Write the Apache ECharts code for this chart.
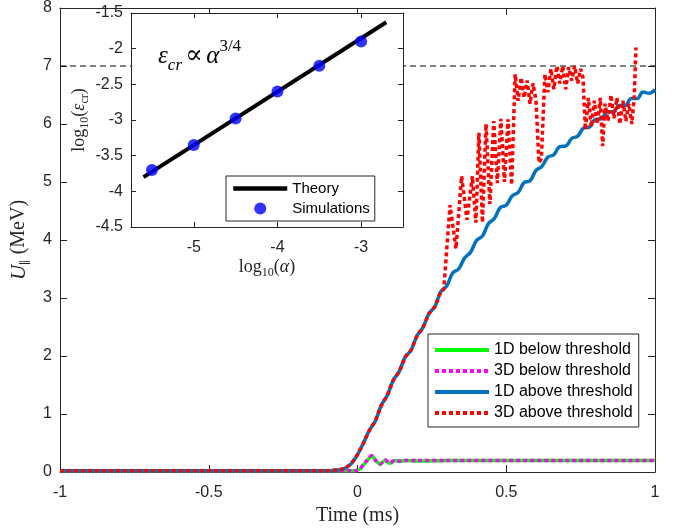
<!DOCTYPE html>
<html>
<head>
<meta charset="utf-8">
<script src="https://cdn.jsdelivr.net/npm/echarts@6.0.0/dist/echarts.min.js"></script>
<style>
  html, body { margin: 0; padding: 0; background: #fff; }
  #chart { width: 688px; height: 531px; }
</style>
</head>
<body>
<div id="chart"></div>
<script>
// main panel: energy vs time
const timeBlue = [-1, -0.5, -0.1, -0.06, -0.04, -0.02,
  0, 0.02, 0.04, 0.06, 0.08, 0.10, 0.12, 0.14, 0.16, 0.18, 0.20, 0.22, 0.24, 0.26, 0.28,
  0.30, 0.32, 0.34, 0.36, 0.38, 0.40, 0.42, 0.44, 0.46, 0.48, 0.50, 0.52, 0.54, 0.56, 0.58,
  0.60, 0.62, 0.64, 0.66, 0.68, 0.70, 0.72, 0.74, 0.76, 0.78, 0.80, 0.82, 0.84, 0.86, 0.88,
  0.90, 0.92, 0.94, 0.96, 0.98, 1.00]
const u1DAbove = [0.02, 0.02, 0.02, 0.04, 0.07, 0.15,
  0.30, 0.50, 0.72, 0.88, 1.15, 1.32, 1.58, 1.73, 1.98, 2.10, 2.35, 2.49, 2.73, 2.85, 3.11,
  3.21, 3.43, 3.50, 3.69, 3.79, 3.99, 4.07, 4.28, 4.37, 4.56, 4.60, 4.76, 4.82, 4.99, 5.02,
  5.20, 5.27, 5.43, 5.47, 5.61, 5.62, 5.75, 5.79, 5.93, 5.95, 6.08, 6.09, 6.21, 6.21, 6.32,
  6.32, 6.44, 6.44, 6.55, 6.53, 6.59]

const timeRed = [-1, -0.5, -0.1, -0.06, -0.04, -0.02,
  0, 0.02, 0.04, 0.06, 0.08, 0.10, 0.12, 0.14, 0.16, 0.18, 0.20, 0.22, 0.24, 0.26, 0.28, 0.29,
  0.311, 0.331, 0.350, 0.368, 0.386, 0.398, 0.408, 0.420, 0.432, 0.445,
  0.458, 0.470, 0.482, 0.494, 0.506, 0.518, 0.530,
  0.540, 0.550, 0.560, 0.570, 0.580, 0.590, 0.600, 0.610, 0.618, 0.630,
  0.640, 0.650, 0.660, 0.670, 0.680, 0.690, 0.700, 0.710, 0.720, 0.730, 0.740, 0.750, 0.758,
  0.766, 0.776, 0.786, 0.796, 0.806, 0.816, 0.824, 0.832, 0.842, 0.852, 0.862, 0.872,
  0.882, 0.892, 0.902, 0.912, 0.922, 0.930, 0.936]
const u3DAbove = [0.02, 0.02, 0.02, 0.04, 0.07, 0.15,
  0.30, 0.50, 0.72, 0.88, 1.15, 1.32, 1.58, 1.73, 1.98, 2.10, 2.35, 2.49, 2.73, 2.85, 3.11, 3.15,
  4.60, 3.85, 5.10, 4.35, 5.10, 4.30, 5.85, 4.30, 6.00, 4.62,
  6.05, 4.98, 6.09, 5.00, 6.08, 4.95, 6.86,
  6.40, 6.80, 6.45, 6.75, 6.35, 6.70, 6.40, 5.33, 5.40, 6.86,
  6.55, 6.95, 6.60, 7.00, 6.70, 7.00, 6.60, 6.98, 6.75, 7.00, 6.70, 6.95, 6.80,
  5.90, 6.45, 5.95, 6.40, 6.00, 6.45, 5.62, 6.35, 6.05, 6.50, 6.10, 6.45,
  6.00, 6.40, 6.05, 6.35, 6.00, 6.45, 7.32]

const timeBelow = [-1, -0.5, -0.1, -0.01, 0.01, 0.03, 0.048, 0.062, 0.076, 0.092, 0.109, 0.126,
  0.14, 0.16, 0.2, 0.3, 0.5, 0.7, 1.0]
const u1DBelow = [0.02, 0.02, 0.02, 0.02, 0.06, 0.18, 0.27, 0.20, 0.13, 0.20, 0.15, 0.20,
  0.18, 0.20, 0.19, 0.20, 0.20, 0.20, 0.20]
const u3DBelow = [0.02, 0.02, 0.02, 0.02, 0.07, 0.19, 0.28, 0.19, 0.14, 0.21, 0.16, 0.20,
  0.19, 0.20, 0.20, 0.20, 0.20, 0.20, 0.20]

const thresholdTime = [-1, 1]
const thresholdU = [7, 7]

// inset: critical field vs alpha (log10)
const theoryLogAlpha = [-5.6, -2.7]
const theoryLogEps = [-3.8, -1.63]
const simLogAlpha = [-5.5, -5, -4.5, -4, -3.5, -3]
const simLogEps = [-3.70, -3.35, -2.98, -2.60, -2.24, -1.90]

const xTicksInset = [-5, -4, -3]

const pairs = (xs, ys) => xs.map((x, i) => [x, ys[i]])

const axisColor = '#262626'
const sans = 'Liberation Sans, Arial, sans-serif'
const serif = 'Liberation Serif, DejaVu Serif, serif'

function boxAxis(extra) {
  return Object.assign({
    type: 'value',
    axisLine: { show: true, onZero: false, lineStyle: { color: axisColor, width: 1 } },
    axisTick: { show: true, inside: true, length: 7, lineStyle: { color: axisColor } },
    axisLabel: { show: false },
    splitLine: { show: false }
  }, extra)
}
const label = (margin) => ({ show: true, color: axisColor, fontSize: 16, fontFamily: sans, margin: margin })

const chart = echarts.init(document.getElementById('chart'), null, { renderer: 'canvas' })
chart.setOption({
  animation: false,
  backgroundColor: '#fff',
  grid: [
    { left: 60, right: 33, top: 4, bottom: 59 },
    { left: 131, right: 285, top: 13, bottom: 304, show: true, backgroundColor: '#fff', borderWidth: 0, z: 10 }
  ],
  xAxis: [
    boxAxis({ gridIndex: 0, position: 'bottom', min: -1, max: 1, interval: 0.5, axisLabel: label(13),
      name: 'Time (ms)', nameLocation: 'middle', nameGap: 34,
      nameTextStyle: { fontFamily: serif, fontSize: 20, color: axisColor } }),
    boxAxis({ gridIndex: 0, position: 'top', min: -1, max: 1, interval: 0.5 }),
    boxAxis({ gridIndex: 1, position: 'bottom', min: -5.75, max: -2.5, z: 11,
      axisTick: { show: true, inside: true, length: 5, lineStyle: { color: axisColor }, customValues: xTicksInset },
      axisLabel: Object.assign(label(13), { customValues: xTicksInset }),
      name: 'log{s|10}({i|α})', nameLocation: 'middle', nameGap: 29,
      nameTextStyle: { fontFamily: serif, fontSize: 18, color: axisColor,
        rich: { s: { fontFamily: serif, fontSize: 12, verticalAlign: 'bottom', lineHeight: 23 },
                i: { fontFamily: serif, fontSize: 18, fontStyle: 'italic' } } } }),
    boxAxis({ gridIndex: 1, position: 'top', min: -5.75, max: -2.5, z: 11,
      axisTick: { show: true, inside: true, length: 5, lineStyle: { color: axisColor }, customValues: xTicksInset } })
  ],
  yAxis: [
    boxAxis({ gridIndex: 0, position: 'left', min: 0, max: 8, interval: 1, axisLabel: label(8),
      name: '{i|U}{s|∥} (MeV)', nameLocation: 'middle', nameGap: 28,
      nameTextStyle: { fontFamily: serif, fontSize: 20, color: axisColor,
        rich: { i: { fontFamily: serif, fontSize: 21, fontStyle: 'italic' },
                s: { fontFamily: 'DejaVu Serif', fontSize: 12, verticalAlign: 'bottom', lineHeight: 26 } } } }),
    boxAxis({ gridIndex: 0, position: 'right', min: 0, max: 8, interval: 1 }),
    boxAxis({ gridIndex: 1, position: 'left', min: -4.5, max: -1.5, interval: 0.5, z: 11,
      axisTick: { show: true, inside: true, length: 5, lineStyle: { color: axisColor } },
      axisLabel: label(8),
      name: 'log{s|10}({i|ε}{s|cr})', nameLocation: 'middle', nameGap: 40,
      nameTextStyle: { fontFamily: serif, fontSize: 18, color: axisColor,
        rich: { s: { fontFamily: serif, fontSize: 12, fontStyle: 'normal', verticalAlign: 'bottom', lineHeight: 23 },
                i: { fontFamily: serif, fontSize: 18, fontStyle: 'italic' } } } }),
    boxAxis({ gridIndex: 1, position: 'right', min: -4.5, max: -1.5, interval: 0.5, z: 11,
      axisTick: { show: true, inside: true, length: 5, lineStyle: { color: axisColor } } })
  ],
  legend: [
    {
      data: ['1D below threshold', '3D below threshold', '1D above threshold', '3D above threshold'],
      orient: 'vertical', left: 428, top: 334, padding: [8, 6, 6, 5],
      itemWidth: 54, itemHeight: 14, itemGap: 5,
      itemStyle: { opacity: 0 },
      lineStyle: { width: 4 },
      backgroundColor: '#fff', borderColor: axisColor, borderWidth: 1, borderRadius: 0,
      textStyle: { fontFamily: sans, fontSize: 16, color: '#000', lineHeight: 16 },
      selectedMode: false
    },
    {
      data: [{ name: 'Theory', itemStyle: { opacity: 0 } }, 'Simulations'],
      orient: 'vertical', left: 226, top: 176, padding: [5, 5, 5, 5],
      itemWidth: 54, itemHeight: 12, itemGap: 5, z: 13,
      lineStyle: { width: 4.5 },
      backgroundColor: '#fff', borderColor: axisColor, borderWidth: 1, borderRadius: 0,
      textStyle: { fontFamily: sans, fontSize: 15, color: '#000', lineHeight: 15 },
      selectedMode: false
    }
  ],
  graphic: [
    {
      type: 'text', left: 158, top: 38, z: 13,
      style: {
        text: '{i|ε}{s|cr} {n|∝} {i|α}{p|3/4}',
        rich: {
          i: { fontFamily: serif, fontStyle: 'italic', fontSize: 25, lineHeight: 36, verticalAlign: 'middle', fill: '#000' },
          n: { fontFamily: 'DejaVu Serif', fontSize: 26, lineHeight: 36, verticalAlign: 'middle', fill: '#000' },
          s: { fontFamily: serif, fontStyle: 'italic', fontSize: 17, verticalAlign: 'bottom', fill: '#000' },
          p: { fontFamily: serif, fontSize: 17, verticalAlign: 'top', fill: '#000' }
        }
      }
    }
  ],
  series: [
    {
      name: 'threshold', type: 'line', xAxisIndex: 0, yAxisIndex: 0, symbol: 'none', silent: true,
      lineStyle: { color: '#000', width: 1, type: [6, 4] },
      data: pairs(thresholdTime, thresholdU)
    },
    {
      name: '1D below threshold', type: 'line', xAxisIndex: 0, yAxisIndex: 0, symbol: 'none', smooth: 0.3, clip: false,
      itemStyle: { color: '#00ff00' }, lineStyle: { color: '#00ff00', width: 3.5 },
      data: pairs(timeBelow, u1DBelow)
    },
    {
      name: '3D below threshold', type: 'line', xAxisIndex: 0, yAxisIndex: 0, symbol: 'none', smooth: 0.3, clip: false,
      itemStyle: { color: '#ff00ff' }, lineStyle: { color: '#ff00ff', width: 3.5, type: [4, 3] },
      data: pairs(timeBelow, u3DBelow)
    },
    {
      name: '1D above threshold', type: 'line', xAxisIndex: 0, yAxisIndex: 0, symbol: 'none', smooth: 0.4, clip: false,
      itemStyle: { color: '#0072bd' }, lineStyle: { color: '#0072bd', width: 3.5 },
      data: pairs(timeBlue, u1DAbove)
    },
    {
      name: '3D above threshold', type: 'line', xAxisIndex: 0, yAxisIndex: 0, symbol: 'none', clip: false,
      itemStyle: { color: '#ff0000' }, lineStyle: { color: '#ff0000', width: 3.5, type: [4, 3] },
      data: pairs(timeRed, u3DAbove)
    },
    {
      name: 'Theory', type: 'line', xAxisIndex: 2, yAxisIndex: 2, symbol: 'none', z: 12,
      itemStyle: { color: '#000' }, lineStyle: { color: '#000', width: 4 },
      data: pairs(theoryLogAlpha, theoryLogEps)
    },
    {
      name: 'Simulations', type: 'scatter', xAxisIndex: 2, yAxisIndex: 2, symbol: 'circle', symbolSize: 12, z: 12,
      itemStyle: { color: '#0000ff' },
      data: pairs(simLogAlpha, simLogEps)
    }
  ]
})
</script>
</body>
</html>
